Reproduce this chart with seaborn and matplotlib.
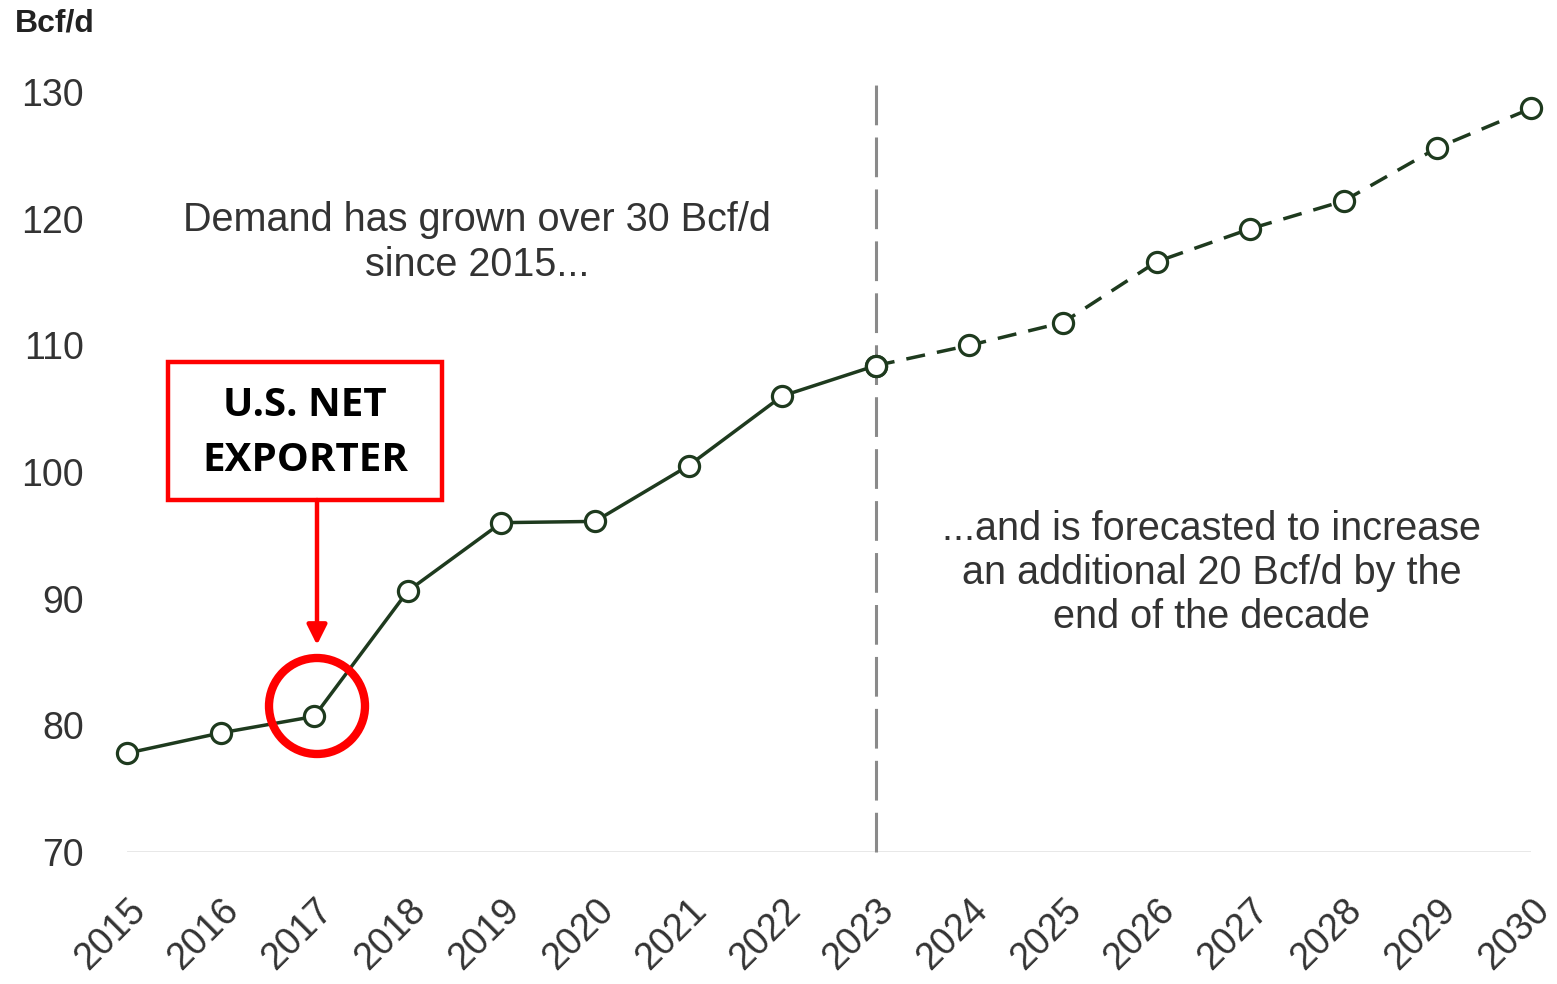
import matplotlib
matplotlib.use("Agg")
import matplotlib.pyplot as plt
import seaborn as sns
import pandas as pd
from matplotlib.patches import Ellipse, Rectangle

years = list(range(2015, 2031))
demand = [77.8, 79.4, 80.7, 90.6, 96.0, 96.1, 100.5, 106.0, 108.4,
          110.0, 111.8, 116.6, 119.2, 121.4, 125.6, 128.7]
y_ticks = [70, 80, 90, 100, 110, 120, 130]
split_year = 2023
export_year = 2017

df = pd.DataFrame({"year": years, "demand": demand})
hist = df[df["year"] <= split_year]
fcst = df[df["year"] >= split_year]

sns.set_theme(style="white")
plt.rcParams["font.family"] = ["Liberation Sans", "DejaVu Sans"]

line_color = "#1e3a1e"
W, H = 1557, 984
fig = plt.figure(figsize=(W / 100, H / 100), dpi=100)
ax = fig.add_axes([127 / W, 1 - 852 / H, (1531 - 127) / W, (852 - 92) / H])
ax.set_xlim(2015, 2030)
ax.set_ylim(70, 130)

sns.lineplot(data=hist, x="year", y="demand", ax=ax, color=line_color, linewidth=2.5,
             marker="o", markersize=14.5, markerfacecolor="white",
             markeredgecolor=line_color, markeredgewidth=2.3, clip_on=False, zorder=5)
sns.lineplot(data=fcst, x="year", y="demand", ax=ax, color=line_color, linewidth=2.5,
             linestyle=(0, (5.5, 3.5)), marker="o", markersize=14.5, markerfacecolor="white",
             markeredgecolor=line_color, markeredgewidth=2.3, clip_on=False, zorder=5)

ax.vlines(split_year, 70, 130.55, colors="#8a8a8a", linewidth=2.2,
          linestyles=(0, (13, 4)), clip_on=False, zorder=3)
ax.axhline(70, color="#e6e6e6", linewidth=2, zorder=1)

for s in ax.spines.values():
    s.set_visible(False)
ax.set_xlabel("")
ax.set_ylabel("")
ax.set_yticks(y_ticks)
ax.set_xticks(years)
ax.set_xticklabels([str(y) for y in years], rotation=45, ha="right",
                   rotation_mode="anchor", fontsize=27, color="#333333")
ax.set_yticklabels([str(v) for v in y_ticks], fontsize=27, color="#333333")
ax.tick_params(axis="y", pad=31, length=0)
ax.tick_params(axis="x", pad=29, length=0)

fig.text(15 / W, 1 - 23 / H, "Bcf/d", fontsize=23, fontweight="bold",
         ha="left", va="center", color="#222222")

ax.text(2018.74, 118.1, "Demand has grown over 30 Bcf/d\nsince 2015...",
        fontsize=28.5, ha="center", va="center", color="#333333", linespacing=1.25)
ax.text(2026.59, 92.0, "...and is forecasted to increase\nan additional 20 Bcf/d by the\nend of the decade",
        fontsize=28.5, ha="center", va="center", color="#333333", linespacing=1.2)

# red callout
fig.patches.append(Rectangle((168 / W, 1 - 500 / H), (442 - 168) / W, (500 - 362) / H,
                             transform=fig.transFigure, fill=False, edgecolor="#ff0000",
                             linewidth=3.2, zorder=10))
fig.text(305 / W, 1 - 433 / H, "U.S. NET\nEXPORTER", fontsize=29, fontweight="bold",
         family=["Open Sans", "DejaVu Sans"], ha="center", va="center",
         color="black", linespacing=1.55)
ax.annotate("", xy=(317 / W, 1 - 645 / H), xytext=(317 / W, 1 - 500 / H),
            xycoords="figure fraction", textcoords="figure fraction",
            arrowprops=dict(arrowstyle="-|>,head_width=0.5,head_length=1.0",
                            color="#ff0000", linewidth=3.2, shrinkA=0, shrinkB=0))
fig.patches.append(Ellipse((317 / W, 1 - 706 / H), 96 / W, 96 / H,
                           transform=fig.transFigure, fill=False, edgecolor="#ff0000",
                           linewidth=6, zorder=10))

fig.savefig("out.png", dpi=100)
